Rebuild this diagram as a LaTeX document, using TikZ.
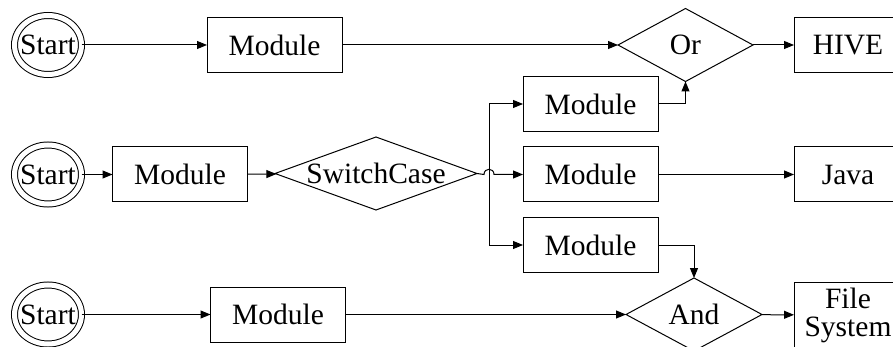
\documentclass[tikz,border=0pt]{standalone}
\usepackage{fontspec}
\setmainfont{Liberation Serif}
\usetikzlibrary{arrows.meta,shapes.geometric}
\begin{document}
\begin{tikzpicture}[x=1pt,y=-1pt,
  font=\fontsize{29.5}{26}\selectfont,
  every node/.style={inner sep=0pt, outer sep=0pt},
  line width=1pt,
  arr/.style={-{Triangle[length=10pt,width=8pt]}},
  startnode/.style={ellipse, draw, double, double distance=5pt, line width=1pt, minimum width=67pt, minimum height=59pt},
  modbox/.style={rectangle, draw, minimum width=135pt, minimum height=55pt},
  endbox/.style={rectangle, draw, minimum width=108pt, minimum height=55pt},
  gate/.style={diamond, draw, minimum width=#1, minimum height=73pt},
  gate/.default=135pt]
\useasboundingbox (0,0) rectangle (893,347);
\clip (0,0) rectangle (893,347);
% row 1
\node[startnode] (s1) at (48,45) {\makebox[0pt]{Start}};
\node[modbox] (m1) at (274.5,45) {Module};
\node[gate] (or) at (685.5,45) {\makebox[0pt]{Or}};
\node[endbox] (hive) at (848,45) {HIVE};
% row 2
\node[startnode] (s2) at (48,174.5) {\makebox[0pt]{Start}};
\node[modbox] (m2) at (180,174.5) {Module};
\node[gate=202pt] (sc) at (376,173.5) {\makebox[0pt]{SwitchCase}};
\node[modbox] (mt) at (590.5,104) {Module};
\node[modbox] (mm) at (590.5,174.5) {Module};
\node[modbox] (mb) at (590.5,245) {Module};
\node[endbox] (java) at (848,174.5) {Java};
% row 3
\node[startnode] (s3) at (48,314.5) {\makebox[0pt]{Start}};
\node[modbox] (m3) at (278,314.5) {Module};
\node[gate=136pt] (and) at (694,314.5) {\makebox[0pt]{And}};
\node[rectangle, draw, minimum width=108pt, minimum height=65pt, align=center, font=\fontsize{29.5}{28}\selectfont] (fs) at (848,315) {File\\System};
\coordinate (v) at (489,174.5);
% connectors
\draw[arr] (s1) -- (m1);
\draw[arr] (m1) -- (or);
\draw[arr] (or) -- (hive);
\draw[arr] (s2) -- (m2);
\draw[arr] (m2) -- (sc);
\draw[arr] (sc.east) -- ([xshift=-5pt]v) .. controls +(0,-7) and +(0,-7) .. ([xshift=5pt]v) -- (mm.west);
\draw[arr] (v) |- (mt.west);
\draw[arr] (v) |- (mb.west);
\draw[arr] (mt.east) -| (or.south);
\draw[arr] (mm) -- (java);
\draw[arr] (mb.east) -| (and.north);
\draw[arr] (s3) -- (m3);
\draw[arr] (m3) -- (and);
\draw[arr] (and) -- (fs);
\end{tikzpicture}
\end{document}
